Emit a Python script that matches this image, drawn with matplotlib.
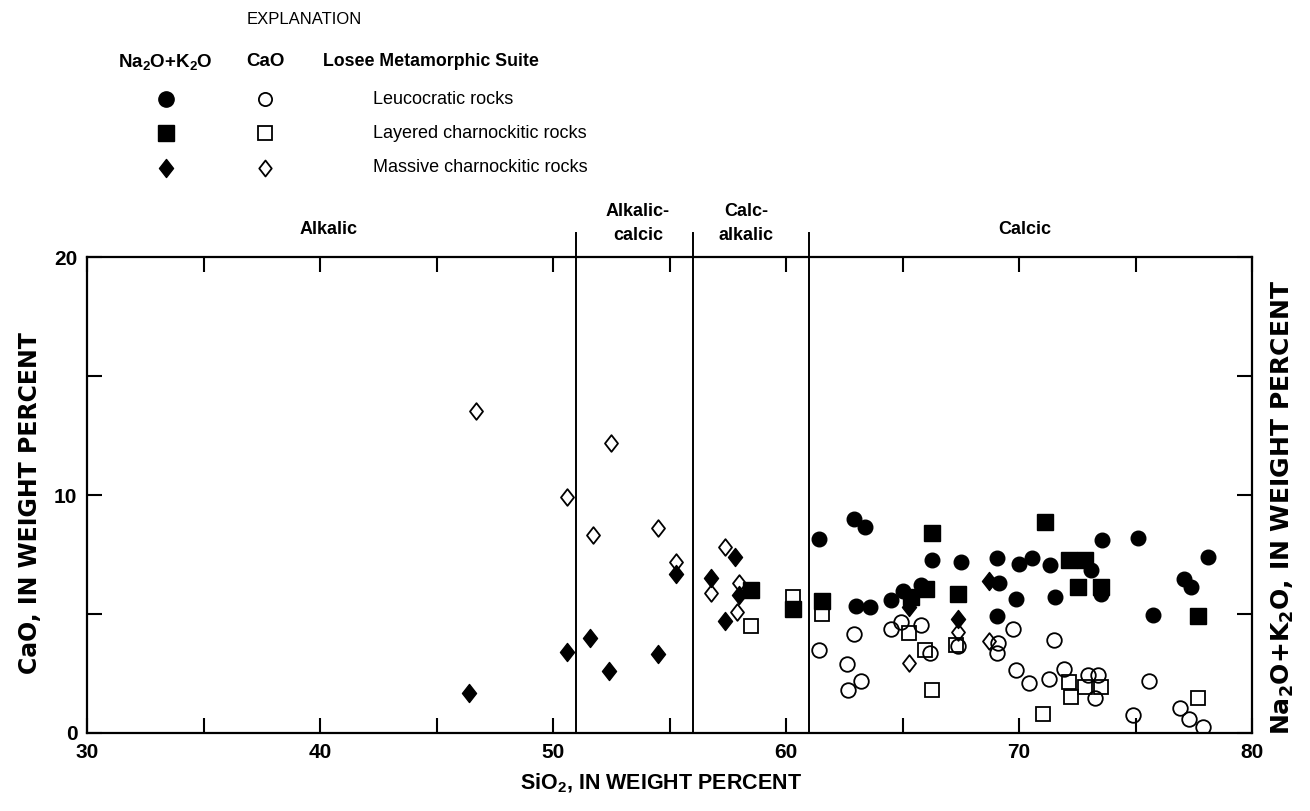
import matplotlib
matplotlib.use("Agg")
import matplotlib.pyplot as plt
from matplotlib.path import Path
from matplotlib.lines import Line2D

plt.rcParams['font.family'] = ['Liberation Sans', 'DejaVu Sans']
plt.rcParams['mathtext.default'] = 'regular'

# ---------------- data (SiO2, value) ----------------
leuco_alk_x = [61.4, 62.9, 63.4, 63.0, 63.6, 64.5, 65.0, 65.8, 66.25, 67.5, 69.05, 69.15, 69.05,
               69.85, 70.0, 70.55, 71.35, 71.55, 73.1, 73.5, 73.55, 75.1, 75.75, 77.1, 77.4, 78.1]
leuco_alk_y = [8.15, 9.0, 8.65, 5.35, 5.3, 5.6, 5.95, 6.2, 7.25, 7.2, 7.35, 6.3, 4.9,
               5.65, 7.1, 7.35, 7.05, 5.7, 6.85, 5.85, 8.1, 8.2, 4.95, 6.45, 6.15, 7.4]
leuco_cao_x = [61.4, 62.6, 62.65, 62.9, 63.2, 64.5, 64.95, 65.8, 66.2, 67.4, 69.05, 69.1, 69.75,
               69.85, 70.45, 71.3, 71.5, 71.95, 72.95, 73.4, 73.25, 74.9, 75.6, 76.9, 77.3, 77.9]
leuco_cao_y = [3.5, 2.9, 1.8, 4.15, 2.2, 4.35, 4.65, 4.55, 3.35, 3.65, 3.35, 3.8, 4.35,
               2.65, 2.1, 2.25, 3.9, 2.7, 2.45, 2.45, 1.45, 0.75, 2.2, 1.05, 0.6, 0.25]

layer_alk_x = [58.5, 60.3, 61.55, 65.35, 66.0, 66.25, 67.4, 71.1, 72.15, 72.85, 72.55, 73.5, 77.7]
layer_alk_y = [6.0, 5.2, 5.55, 5.7, 6.05, 8.4, 5.85, 8.85, 7.25, 7.25, 6.15, 6.15, 4.9]
layer_cao_x = [58.5, 60.3, 61.55, 65.3, 65.95, 66.25, 67.3, 71.05, 72.15, 72.25, 72.85, 73.5, 77.7]
layer_cao_y = [4.5, 5.7, 5.0, 4.2, 3.5, 1.8, 3.7, 0.8, 2.15, 1.5, 1.95, 1.95, 1.45]

mass_alk_x = [46.4, 50.6, 51.6, 52.4, 54.5, 55.3, 56.8, 57.4, 57.8, 58.0, 65.3, 67.4, 68.7]
mass_alk_y = [1.7, 3.4, 4.0, 2.6, 3.3, 6.7, 6.5, 4.7, 7.4, 5.8, 5.3, 4.8, 6.4]
mass_cao_x = [46.7, 50.6, 51.7, 52.5, 54.5, 55.3, 56.8, 57.4, 58.0, 57.9, 65.3, 67.4, 68.7]
mass_cao_y = [13.55, 9.9, 8.3, 12.2, 8.6, 7.2, 5.9, 7.8, 6.3, 5.1, 2.95, 4.25, 3.85]

boundaries = [51, 56, 61]
region_labels = [["Alkalic"], ["Alkalic-", "calcic"], ["Calc-", "alkalic"], ["Calcic"]]
region_label_x = [40.35, 53.65, 58.3, 70.26]

x_ticks = [30, 35, 40, 45, 50, 55, 60, 65, 70, 75, 80]
x_ticklabels = ["30", "", "40", "", "50", "", "60", "", "70", "", "80"]
y_ticks = [0, 5, 10, 15, 20]
y_ticklabels = ["0", "", "10", "", "20"]

legend_names = ["Leucocratic rocks", "Layered charnockitic rocks", "Massive charnockitic rocks"]

# ---------------- figure ----------------
W, H = 1310, 811
fig = plt.figure(figsize=(W / 100, H / 100), dpi=100)
fig.patch.set_facecolor('white')

def fx(px):
    return px / W

def fy(py):
    return 1 - py / H

ax = fig.add_axes([fx(87), fy(733), (1252 - 87) / W, (733 - 257) / H])
ax.set_xlim(30, 80)
ax.set_ylim(0, 20)

diamond = Path([(0, 1), (0.78, 0), (0, -1), (-0.78, 0), (0, 1)],
               [Path.MOVETO, Path.LINETO, Path.LINETO, Path.LINETO, Path.CLOSEPOLY])

filled_kw = dict(linestyle='none', color='black', markeredgecolor='black')
open_kw = dict(linestyle='none', markerfacecolor='none', markeredgecolor='black', markeredgewidth=1.3)

ax.plot(leuco_alk_x, leuco_alk_y, marker='o', markersize=10.5, **filled_kw, zorder=4)
ax.plot(layer_alk_x, layer_alk_y, marker='s', markersize=11, **filled_kw, zorder=4)
ax.plot(mass_alk_x, mass_alk_y, marker=diamond, markersize=13, **filled_kw, zorder=4)
ax.plot(leuco_cao_x, leuco_cao_y, marker='o', markersize=10.5, **open_kw, zorder=5)
ax.plot(layer_cao_x, layer_cao_y, marker='s', markersize=10.5, **open_kw, zorder=5)
ax.plot(mass_cao_x, mass_cao_y, marker=diamond, markersize=12, **open_kw, zorder=5)

for b in boundaries:
    ax.plot([b, b], [0, 21.0], color='black', lw=1.4, clip_on=False, zorder=3)

for lines, lx in zip(region_labels, region_label_x):
    if len(lines) == 1:
        fig.text(ax.transData.transform((lx, 0))[0] / W, fy(229), lines[0],
                 ha='center', va='center', fontsize=13, fontweight='bold')
    else:
        for ln, py in zip(lines, [212, 236]):
            fig.text(ax.transData.transform((lx, 0))[0] / W, fy(py), ln,
                     ha='center', va='center', fontsize=13, fontweight='bold')

ax.set_xticks(x_ticks)
ax.set_xticklabels(x_ticklabels)
ax.set_yticks(y_ticks)
ax.set_yticklabels(y_ticklabels)
ax.tick_params(direction='in', length=11, width=1.5, top=True, right=True,
               labelsize=15, pad=7)
for t in ax.get_xticklabels() + ax.get_yticklabels():
    t.set_fontweight('bold')
for s in ax.spines.values():
    s.set_linewidth(1.6)

lab_font = ['DejaVu Sans']
fig.text(fx(661), fy(783), "SiO$_2$, IN WEIGHT PERCENT", ha='center', va='center',
         fontsize=15.5, fontweight='bold')
fig.text(fx(30), fy(503), "CaO, IN WEIGHT PERCENT", ha='center', va='center',
         rotation=90, fontsize=17, fontweight='bold', family=lab_font)
fig.text(fx(1283), fy(507), "Na$_2$O+K$_2$O, IN WEIGHT PERCENT", ha='center', va='center',
         rotation=90, fontsize=18, fontweight='bold', family=lab_font)

# ---------------- explanation ----------------
fig.text(fx(304), fy(20), "EXPLANATION", ha='center', va='center', fontsize=12)
fig.text(fx(118), fy(62), "Na$_2$O+K$_2$O", ha='left', va='center', fontsize=13.5, fontweight='bold')
fig.text(fx(265), fy(62), "CaO", ha='center', va='center', fontsize=13.5, fontweight='bold')
fig.text(fx(323), fy(62), "Losee Metamorphic Suite", ha='left', va='center', fontsize=12.8,
         fontweight='bold')

row_y = [99, 133, 168]
leg_markers = ['o', 's', diamond]
leg_sizes = [11, 11, 13]
for name, py, mk, ms in zip(legend_names, row_y, leg_markers, leg_sizes):
    fig.add_artist(Line2D([fx(166)], [fy(py)], marker=mk, markersize=ms, color='black',
                          linestyle='none', transform=fig.transFigure))
    fig.add_artist(Line2D([fx(265)], [fy(py)], marker=mk, markersize=ms - 1.5,
                          markerfacecolor='none', markeredgecolor='black',
                          markeredgewidth=1.3, linestyle='none', transform=fig.transFigure))
    fig.text(fx(373), fy(py), name, ha='left', va='center', fontsize=13)

fig.savefig("out.png", dpi=100, facecolor='white')
